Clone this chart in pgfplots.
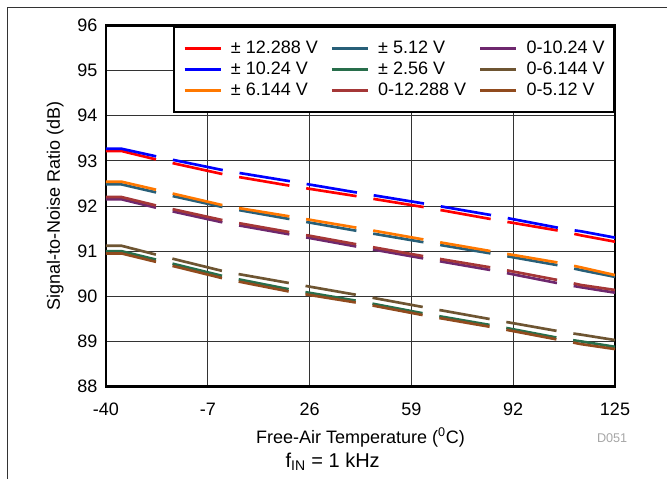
\documentclass[border=0pt]{standalone}
\usepackage{pgfplots}
\pgfplotsset{compat=1.18}
\usepackage{fontspec}
\setmainfont{Liberation Sans}
\definecolor{cRed}{RGB}{255,0,0}
\definecolor{cBlue}{RGB}{0,0,255}
\definecolor{cOrange}{RGB}{255,120,0}
\definecolor{cTeal}{RGB}{40,95,120}
\definecolor{cGreen}{RGB}{40,110,75}
\definecolor{cMaroon}{RGB}{165,55,55}
\definecolor{cPurple}{RGB}{110,40,110}
\definecolor{cOlive}{RGB}{110,85,50}
\definecolor{cBrown}{RGB}{145,75,30}
\begin{document}
\begin{tikzpicture}[font=\fontsize{13.5}{16}\selectfont]
\path[use as bounding box] (-79.5pt,-68.6pt) rectangle (420.75pt,289.9pt);
\draw[line width=0.75pt, black!80] (-73.5pt,-70pt) -- (-73.5pt,284.6pt) -- (425pt,284.6pt);
\begin{axis}[
  at={(0pt,0pt)}, anchor=south west,
  scale only axis, width=381.75pt, height=270.75pt,
  xmin=-40, xmax=125, ymin=88, ymax=96,
  xtick={-40,-7,26,59,92,125}, ytick={88,89,...,96},
  grid=major, major grid style={black!80, line width=0.75pt},
  axis line style={line width=2pt},
  major tick length=0pt,
  tick label style={font=\fontsize{13.5}{16}\selectfont},
  xticklabel style={yshift=-9pt},
  yticklabel style={xshift=-3pt},
  /pgf/number format/assume math mode=true,
  xlabel={Free-Air Temperature (\textsuperscript{0}C)},
  ylabel={Signal-to-Noise Ratio (dB)},
  xlabel style={at={(axis description cs:0.5,-0.14)}, anchor=center},
  ylabel style={at={(axis description cs:-0.1,0.5)}, anchor=center},
  every axis plot/.append style={line width=2pt, dash pattern=on 38.25pt off 12.75pt},
  legend style={at={(1,1)}, anchor=north east, draw=black, line width=1.5pt, fill=white,
    inner xsep=7pt, inner ysep=8.5pt,
    font=\fontsize{13.5}{16}\selectfont,
    nodes={inner xsep=0pt, inner ysep=1.4pt, text height=10pt, text depth=3pt},
    /tikz/every odd column/.append style={column sep=6.75pt},
    /tikz/every even column/.append style={column sep=9.5pt}},
  legend cell align=left, legend columns=3,
  legend image code/.code={\draw[#1, solid, line width=2pt] (0pt,0pt) -- (27pt,0pt);},
]
% row 1: red, teal, purple
\addplot[color=cRed] coordinates {(-40,93.22)(-35,93.22)(-23,93.02)(-1,92.69)(20.5,92.44)(43,92.20)(64.5,91.96)(86.5,91.69)(108,91.44)(114,91.35)(125,91.21)};
\addlegendentry{± 12.288 V}
\addplot[color=cTeal] coordinates {(-40,92.48)(-35,92.48)(-23,92.29)(-1,91.96)(20.5,91.70)(43,91.43)(64.5,91.18)(86.5,90.93)(108,90.67)(114,90.58)(125,90.43)};
\addlegendentry{± 5.12 V}
\addplot[color=cPurple] coordinates {(-40,92.15)(-35,92.15)(-23,91.95)(-1,91.62)(20.5,91.36)(43,91.08)(64.5,90.82)(86.5,90.56)(108,90.27)(114,90.20)(125,90.08)};
\addlegendentry{0-10.24 V}
% row 2: blue, green, olive
\addplot[color=cBlue] coordinates {(-40,93.27)(-35,93.27)(-23,93.09)(-1,92.78)(20.5,92.54)(43,92.28)(64.5,92.04)(86.5,91.78)(108,91.50)(114,91.44)(125,91.30)};
\addlegendentry{± 10.24 V}
\addplot[color=cGreen] coordinates {(-40,91.00)(-35,91.00)(-23,90.80)(-1,90.43)(20.5,90.14)(43,89.88)(64.5,89.60)(86.5,89.34)(108,89.06)(114,89.00)(125,88.88)};
\addlegendentry{± 2.56 V}
\addplot[color=cOlive] coordinates {(-40,91.12)(-35,91.12)(-23,90.91)(-1,90.54)(20.5,90.28)(43,90.01)(64.5,89.74)(86.5,89.47)(108,89.21)(114,89.15)(125,89.03)};
\addlegendentry{0-6.144 V}
% row 3: orange, maroon, brown
\addplot[color=cOrange] coordinates {(-40,92.54)(-35,92.54)(-23,92.35)(-1,92.00)(20.5,91.76)(43,91.50)(64.5,91.24)(86.5,90.98)(108,90.73)(114,90.64)(125,90.47)};
\addlegendentry{± 6.144 V}
\addplot[color=cMaroon] coordinates {(-40,92.20)(-35,92.20)(-23,92.00)(-1,91.67)(20.5,91.41)(43,91.13)(64.5,90.87)(86.5,90.62)(108,90.34)(114,90.25)(125,90.14)};
\addlegendentry{0-12.288 V}
\addplot[color=cBrown] coordinates {(-40,90.95)(-35,90.95)(-23,90.75)(-1,90.38)(20.5,90.09)(43,89.84)(64.5,89.56)(86.5,89.30)(108,89.02)(114,88.94)(125,88.83)};
\addlegendentry{0-5.12 V}
\end{axis}
\node[anchor=east, text=black!35, font=\fontsize{9.5}{11}\selectfont] at (394.5pt,-38.6pt) {D051};
\node[font=\fontsize{15}{18}\selectfont] at (170pt,-56.6pt) {f\textsubscript{IN} = 1 kHz};
\end{tikzpicture}
\end{document}
